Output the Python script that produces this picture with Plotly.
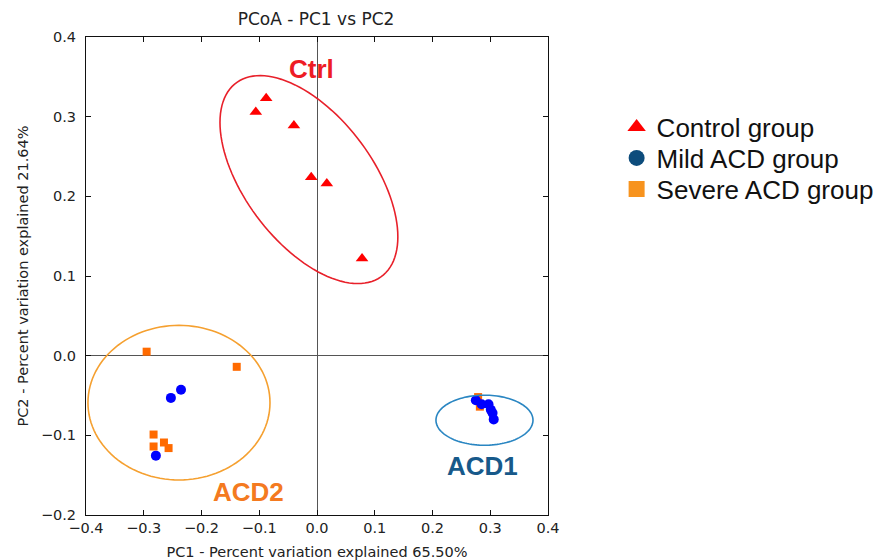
import numpy as np
import plotly.graph_objects as go

# ---- data ----
ctrl_x = [-0.106, -0.088, -0.040, -0.010, 0.017, 0.078]
ctrl_y = [0.306, 0.323, 0.289, 0.224, 0.216, 0.122]

severe_x = [-0.295, -0.139, -0.283, -0.283, -0.265, -0.257, 0.279, 0.282]
severe_y = [0.005, -0.014, -0.099, -0.114, -0.109, -0.116, -0.052, -0.064]

mild_x = [-0.2355, -0.253, -0.279, 0.275, 0.285, 0.297, 0.301, 0.304, 0.306]
mild_y = [-0.0427, -0.053, -0.1255, -0.056, -0.061, -0.061, -0.068, -0.072, -0.080]

legend_names = ["Control group", "Mild ACD group", "Severe ACD group"]

# ellipse parameters: center x, center y, half-width, half-height, correlation
ell_names = ["Ctrl", "ACD2", "ACD1"]
ell_cx = [-0.014, -0.239, 0.290]
ell_cy = [0.221, -0.059, -0.081]
ell_hx = [0.154, 0.1576, 0.084]
ell_hy = [0.1305, 0.097, 0.0314]
ell_rho = [-0.55, 0.0, 0.0]
ell_line = ["#E8202A", "#F5A030", "#2A86C2"]
lab_x = [-0.010, -0.119, 0.287]
lab_y = [0.360, -0.171, -0.138]
lab_col = ["#EE1C25", "#F47A20", "#17598A"]

fig = go.Figure()

# ellipses as shapes
t = np.linspace(0, 2 * np.pi, 121)
for cx, cy, hx, hy, rho, col in zip(ell_cx, ell_cy, ell_hx, ell_hy, ell_rho, ell_line):
    ex = cx + hx * np.cos(t)
    ey = cy + hy * (rho * np.cos(t) + np.sqrt(1 - rho ** 2) * np.sin(t))
    path = "M " + " L ".join(f"{a:.5f},{b:.5f}" for a, b in zip(ex, ey)) + " Z"
    fig.add_shape(type="path", path=path, xref="x", yref="y",
                  line=dict(color=col, width=1.6), layer="above")

# data markers
fig.add_trace(go.Scatter(x=ctrl_x, y=ctrl_y, mode="markers", showlegend=False,
                         marker=dict(symbol="triangle-up", size=11, color="#FF0000")))
fig.add_trace(go.Scatter(x=severe_x, y=severe_y, mode="markers", showlegend=False,
                         marker=dict(symbol="square", size=8, color="#FF6A00")))
fig.add_trace(go.Scatter(x=mild_x, y=mild_y, mode="markers", showlegend=False,
                         marker=dict(symbol="circle", size=10, color="#0000FF")))

# legend entries, each in its own legend box so spacing matches the reference
leg_sym = ["triangle-up", "circle", "square"]
leg_col = ["#FF0000", "#0D4C7C", "#F7931E"]
leg_ids = ["legend", "legend2", "legend3"]
leg_rows = [127, 158, 189]
for name, sym, col, lid in zip(legend_names, leg_sym, leg_col, leg_ids):
    fig.add_trace(go.Scatter(x=[None], y=[None], mode="markers", name=name, legend=lid,
                             marker=dict(symbol=sym, size=22, color=col)))

# group labels
for name, x, y, col in zip(ell_names, lab_x, lab_y, lab_col):
    fig.add_annotation(x=x, y=y, text=f"<b>{name}</b>", showarrow=False,
                       font=dict(family="Liberation Sans, Arial", size=26, color=col))

axis_common = dict(
    showline=True, linecolor="#111", linewidth=1, mirror="ticks",
    ticks="inside", ticklen=5, tickcolor="#111", tickwidth=1,
    showgrid=False, zeroline=True, zerolinecolor="#555", zerolinewidth=1,
    tickfont=dict(family="DejaVu Sans", size=14.5, color="#222"),
    tickformat=".1f", automargin=False,
)

legend_layout = {}
for lid, row in zip(leg_ids, leg_rows):
    legend_layout[lid] = dict(
        xref="container", yref="container", x=0.6905, y=1 - row / 560,
        xanchor="left", yanchor="middle",
        font=dict(family="Liberation Sans, Arial", size=26, color="#111"),
        bgcolor="rgba(0,0,0,0)")

fig.update_layout(
    width=893, height=560,
    margin=dict(l=86, r=345, t=37, b=45, autoexpand=False),
    plot_bgcolor="white", paper_bgcolor="white",
    title=dict(text="PCoA - PC1 vs PC2", x=316 / 893, xref="container", xanchor="center",
               y=1 - 19 / 560, yref="container", yanchor="middle",
               font=dict(family="DejaVu Sans", size=17, color="#222")),
    xaxis=dict(range=[-0.4, 0.4], dtick=0.1, tick0=0, ticklabelstandoff=0,
               title=dict(text="PC1 - Percent variation explained 65.50%", standoff=11,
                          font=dict(family="DejaVu Sans", size=14.5, color="#222")),
               **axis_common),
    yaxis=dict(range=[-0.2, 0.4], dtick=0.1, tick0=0, ticklabelstandoff=6,
               title=dict(text="PC2 - Percent variation explained 21.64%", standoff=8,
                          font=dict(family="DejaVu Sans", size=14.5, color="#222")),
               **axis_common),
    **legend_layout,
)

fig.write_html("out.html")
